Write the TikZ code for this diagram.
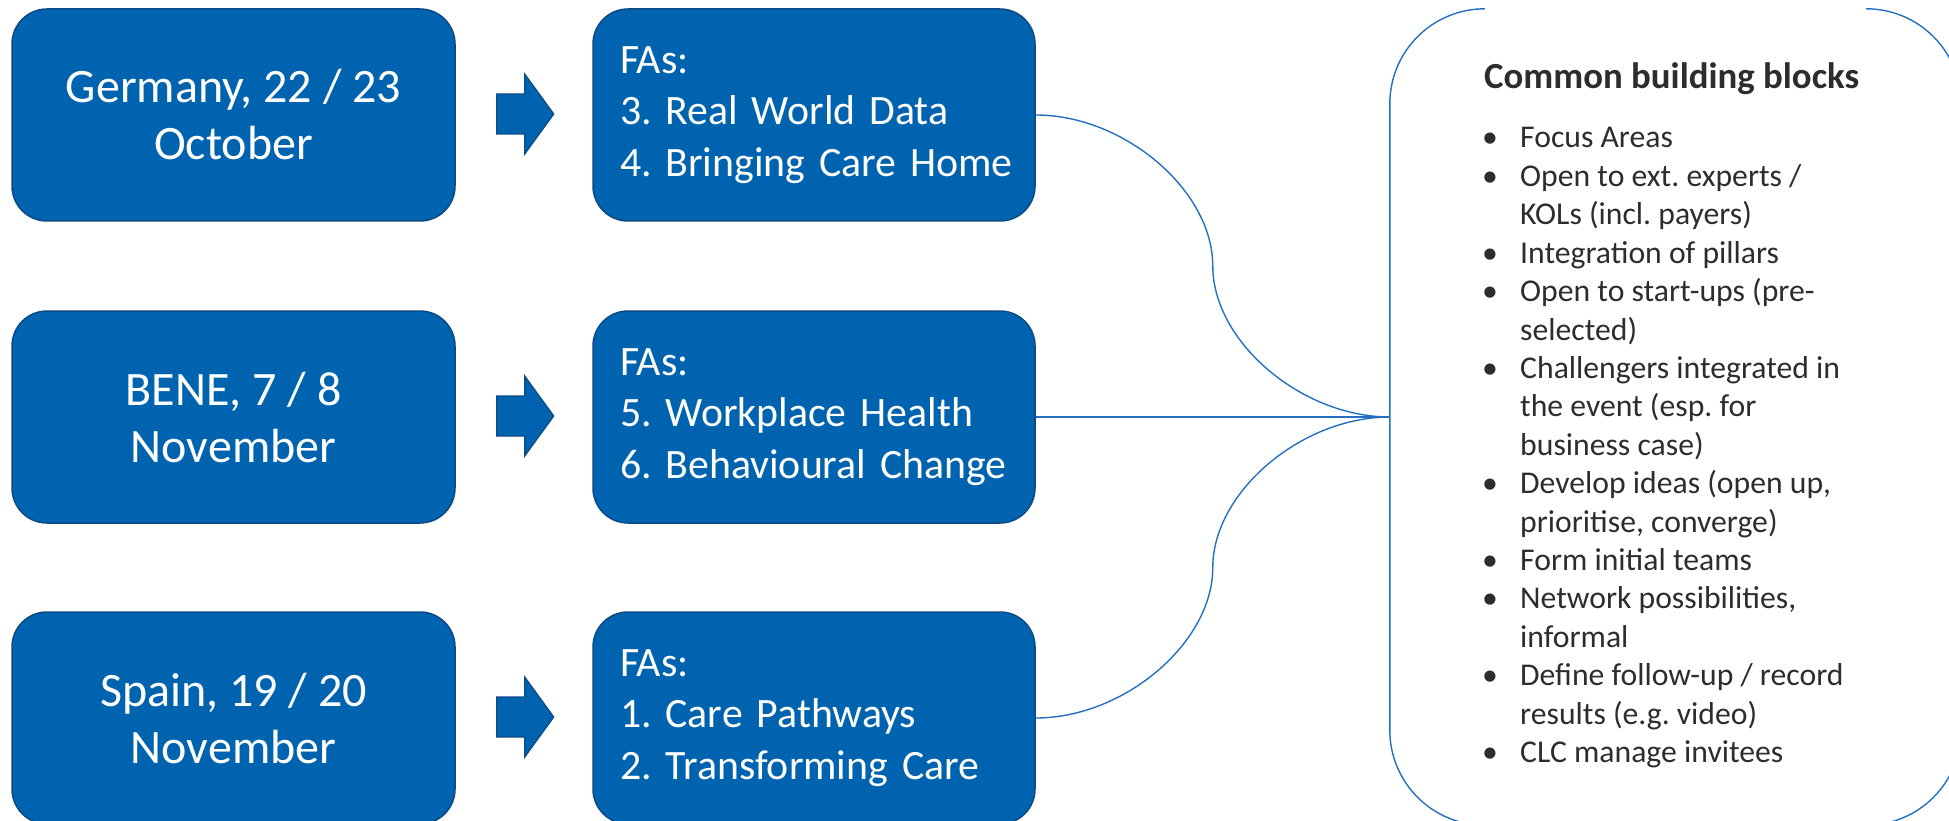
\documentclass[tikz,border=0pt]{standalone}
\usepackage{fontspec}
\setmainfont{Carlito}
\usetikzlibrary{calc}
\definecolor{boxblue}{RGB}{0,99,175}
\definecolor{boxedge}{RGB}{12,74,134}
\definecolor{linkblue}{RGB}{36,112,190}
\definecolor{txtgray}{RGB}{45,45,45}
\frenchspacing
\begin{document}
\frenchspacing
\begin{tikzpicture}[x=1pt,y=-1pt,
  datebox/.style={rectangle, rounded corners=35pt, fill=boxblue, draw=boxedge, line width=1.5pt,
    minimum width=443pt, minimum height=212pt, inner sep=0pt, text=white, align=center,
    font=\fontsize{48}{57}\selectfont},
  fabox/.style={rectangle, rounded corners=35pt, fill=boxblue, draw=boxedge, line width=1.5pt,
    minimum width=442pt, minimum height=212pt, inner xsep=27pt, inner ysep=0pt, text width=388pt,
    text=white, align=left, font=\fontsize{41.8}{51.5}\selectfont},
  blockarrow/.style={fill=boxblue, draw=boxedge, line width=1.2pt, line join=miter},
  link/.style={draw=linkblue, line width=1.4pt},
  frame/.style={draw=linkblue, line width=1.4pt, rounded corners=95pt},
  heading/.style={font=\bfseries\fontsize{36.8}{43}\selectfont, text=txtgray, inner sep=0pt, anchor=base west},
  itemtext/.style={font=\fontsize{31.7}{38.4}\selectfont, text=txtgray, inner sep=0pt, anchor=base west}]

\useasboundingbox (0,0) rectangle (1949,821);

% left date boxes
\node[datebox] (de) at (233.5,115) {Germany, 22 / 23\\October};
\node[datebox] (be) at (233.5,417) {BENE, 7 / 8\\November};
\node[datebox] (es) at (233.5,718) {Spain, 19 / 20\\November};

% focus area boxes
\node[fabox] (fa1) at (814,115) {\mbox{FAs:}\\\mbox{3. Real World Data}\\\mbox{4. Bringing Care Home}};
\node[fabox] (fa2) at (814,417) {\mbox{FAs:}\\\mbox{5. Workplace Health}\\\mbox{6. Behavioural Change}};
\node[fabox] (fa3) at (814,718) {\mbox{FAs:}\\\mbox{1. Care Pathways}\\\mbox{2. Transforming Care}};

% block arrows
\foreach \n in {de,be,es} {
  \draw[blockarrow] ($(\n.east)+(41,-21)$) -- ++(28,0) -- ++(0,-20) -- ++(29,40)
    -- ++(-29,40) -- ++(0,-20) -- ++(-28,0) -- cycle;
}

% common building blocks container
\node[minimum width=571pt, minimum height=816pt, inner sep=0pt] (cbb) at (1675.5,417) {};
\draw[frame] ($(cbb.north west)+(95,0)$) -- (cbb.north west) -- (cbb.south west) -- ($(cbb.south west)+(95,0)$);
\draw[frame] ($(cbb.north east)+(-95,0)$) -- (cbb.north east) -- (cbb.south east) -- ($(cbb.south east)+(-95,0)$);

\node[heading] (hd) at (1484,89) {Common building blocks};
\foreach \i/\b/\t in {0/1/{Focus Areas},1/1/{Open to ext. experts /},2/0/{KOLs (incl. payers)},
  3/1/{Integration of pillars},4/1/{Open to start-ups (pre-},5/0/{selected)},
  6/1/{Challengers integrated in},7/0/{the event (esp. for},8/0/{business case)},
  9/1/{Develop ideas (open up,},10/0/{prioritise, converge)},11/1/{Form initial teams},
  12/1/{Network possibilities,},13/0/{informal},14/1/{Define follow-up / record},
  15/0/{results (e.g. video)},16/1/{CLC manage invitees}} {
  \node[itemtext] (l\i) at (1520,148+38.4*\i) {\t};
  \ifnum\b=1 \node[itemtext] (b\i) at (1482,148+38.4*\i) {\textbullet};\fi
}

% connectors
\coordinate (m1) at ($(fa1.east)!0.5!(cbb.west)$);
\coordinate (q1) at ($(fa1.east)!0.25!(cbb.west)$);
\coordinate (r1) at ($(fa1.east)!0.75!(cbb.west)$);
\draw[link] (fa1.east) .. controls (q1 |- fa1.east) and (m1 |- q1) .. (m1)
  .. controls (m1 |- r1) and (r1 |- cbb.west) .. (cbb.west);
\draw[link] (fa2.east) -- (cbb.west);
\coordinate (m3) at ($(fa3.east)!0.5!(cbb.west)$);
\coordinate (q3) at ($(fa3.east)!0.25!(cbb.west)$);
\coordinate (r3) at ($(fa3.east)!0.75!(cbb.west)$);
\draw[link] (fa3.east) .. controls (q3 |- fa3.east) and (m3 |- q3) .. (m3)
  .. controls (m3 |- r3) and (r3 |- cbb.west) .. (cbb.west);
\end{tikzpicture}
\end{document}
